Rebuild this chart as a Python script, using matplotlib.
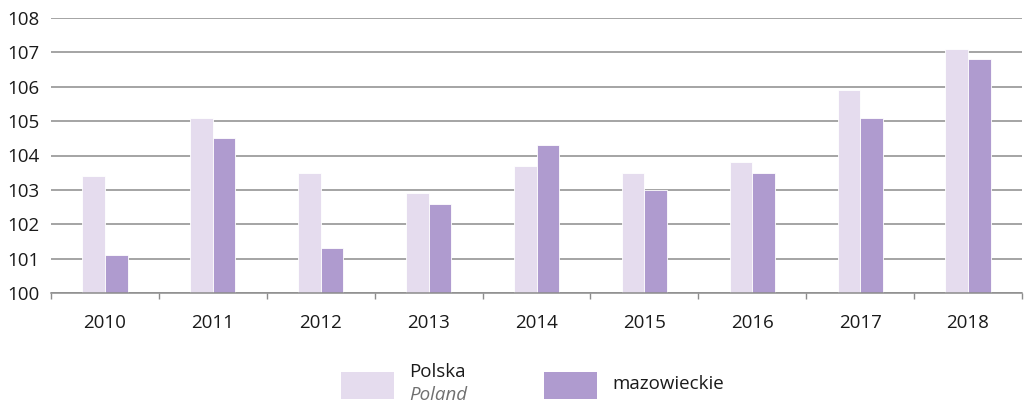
import matplotlib
matplotlib.use("Agg")
import matplotlib.pyplot as plt
from matplotlib.patches import Rectangle
import numpy as np

plt.rcParams['font.family'] = ['Open Sans', 'DejaVu Sans']

years = ["2010", "2011", "2012", "2013", "2014", "2015", "2016", "2017", "2018"]
polska = [103.4, 105.1, 103.5, 102.9, 103.7, 103.5, 103.8, 105.9, 107.1]
mazowieckie = [101.1, 104.5, 101.3, 102.6, 104.3, 103.0, 103.5, 105.1, 106.8]
y_ticks = [100, 101, 102, 103, 104, 105, 106, 107, 108]

light = "#E5DCEE"
dark = "#AF9BCF"
grid_col = "#8C8C8C"
text_col = "#1A1A1A"
fs = 13.5

W, H = 1027, 403
fig = plt.figure(figsize=(W / 100, H / 100), dpi=100)
ax = fig.add_axes([51 / W, 1 - 293 / H, (1022 - 51) / W, (293 - 18) / H])

x = np.arange(len(years))
bw = 0.21
base = 100
ax.bar(x - bw / 2, np.array(polska) - base, bw, bottom=base, color=light,
       edgecolor="white", linewidth=0.6, zorder=3)
ax.bar(x + bw / 2, np.array(mazowieckie) - base, bw, bottom=base, color=dark,
       edgecolor="white", linewidth=0.6, zorder=3)

ax.set_xlim(-0.5, len(years) - 0.5)
ax.set_ylim(100, 108)
ax.set_yticks(y_ticks)
ax.set_yticklabels([str(v) for v in y_ticks])
ax.set_xticks(x)
ax.set_xticklabels(years)
ax.set_xticks(np.arange(-0.5, len(years) - 0.4, 1), minor=True)

ax.yaxis.grid(True, color=grid_col, linewidth=1.1, zorder=0)
ax.set_axisbelow(True)
for s in ["top", "right", "left"]:
    ax.spines[s].set_visible(False)
ax.spines["bottom"].set_color(grid_col)
ax.spines["bottom"].set_linewidth(1.1)
ax.spines["bottom"].set_zorder(4)

ax.tick_params(axis="y", length=0, pad=8, labelsize=fs, labelcolor=text_col)
ax.tick_params(axis="x", which="major", length=0, pad=15, labelsize=fs,
               labelcolor=text_col)
ax.tick_params(axis="x", which="minor", length=4, width=1, color=grid_col,
               direction="out")

# legend drawn in figure pixel coordinates
def px(xp, yp):
    return xp / W, 1 - yp / H

def box(x0, y0, x1, y1, color):
    fx, fy = px(x0, y1)
    fig.add_artist(Rectangle((fx, fy), (x1 - x0) / W, (y1 - y0) / H,
                             transform=fig.transFigure, color=color, lw=0))

box(341, 372, 394, 399, light)
box(544, 372, 597, 399, dark)
fig.text(*px(409, 372), "Polska", fontsize=fs, color=text_col, va="center", ha="left")
fig.text(*px(409, 395), "Poland", fontsize=fs, color="#707070", style="italic",
         va="center", ha="left")
fig.text(*px(612, 384), "mazowieckie", fontsize=fs, color=text_col, va="center",
         ha="left")

fig.savefig("out.png", dpi=100)
